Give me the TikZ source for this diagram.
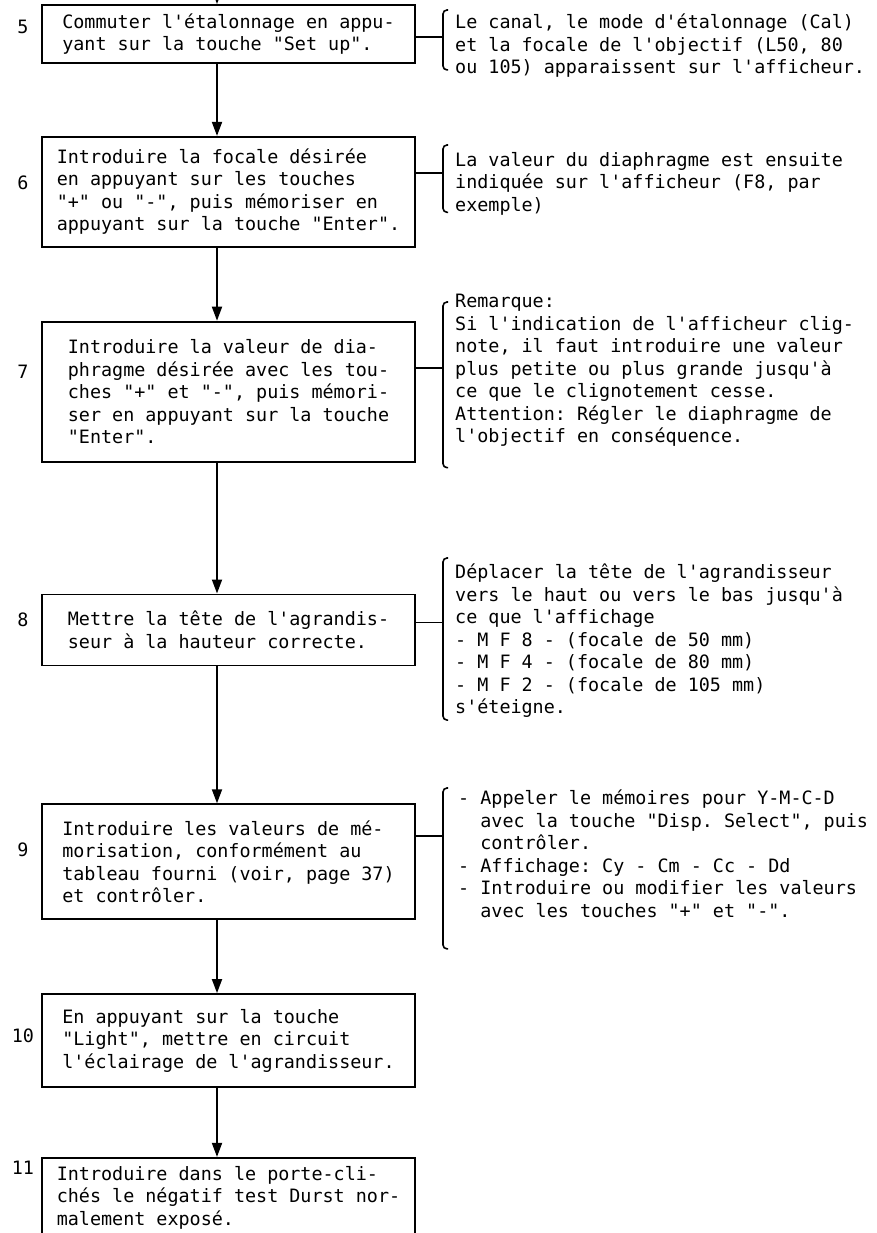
\documentclass[tikz,border=0pt]{standalone}
\usepackage{fontspec}
\setmonofont{DejaVu Sans Mono}
\usetikzlibrary{positioning, arrows.meta}

\begin{document}
\begin{tikzpicture}[
        x=1pt, y=-1pt,
        stepbox/.style={rectangle, draw, line width=1.8pt, minimum width=373pt, align=left, inner sep=4pt, font={\ttfamily\fontsize{18.4pt}{22.5pt}\selectfont}},
        note/.style={anchor=north west, align=left, inner sep=0pt, font={\ttfamily\fontsize{18.4pt}{22.5pt}\selectfont}},
        steplabel/.style={inner sep=0pt, font={\ttfamily\fontsize{18.4pt}{22.5pt}\selectfont}},
        arrow/.style={line width=1.8pt, -{Triangle[length=14pt, width=10pt]}},
        link/.style={line width=1.8pt},
        brace/.style={line width=1.6pt, rounded corners=4pt}
    ]
    \useasboundingbox (0,0) rectangle (876,1233);
    \clip (0,0) rectangle (876,1233);

    % steps
    \node [stepbox, minimum height=58pt] (b5) at (228.5,34) {Commuter l'étalonnage en appu-\\yant sur la touche "Set up".};
    \node [stepbox, minimum height=110pt, below=72pt of b5] (b6) {Introduire la focale désirée\\en appuyant sur les touches\\"+" ou "-", puis mémoriser en\\appuyant sur la touche "Enter".};
    \node [stepbox, minimum height=140pt, below=73pt of b6] (b7) {Introduire la valeur de dia-\\phragme désirée avec les tou-\\ches "+" et "-", puis mémori-\\ser en appuyant sur la touche\\"Enter".};
    \node [stepbox, minimum height=71pt, below=131pt of b7] (b8) {Mettre la tête de l'agrandis-\\seur à la hauteur correcte.};
    \node [stepbox, minimum height=115pt, below=137pt of b8] (b9) {Introduire les valeurs de mé-\\morisation, conformément au\\tableau fourni (voir, page 37)\\et contrôler.};
    \node [stepbox, minimum height=93pt, below=73pt of b9] (b10) {En appuyant sur la touche\\"Light", mettre en circuit\\l'éclairage de l'agrandisseur.};
    \node [stepbox, minimum height=98pt, below=69pt of b10] (b11) {Introduire dans le porte-cli-\\chés le négatif test Durst nor-\\malement exposé.\\\mbox{}};

    % step numbers
    \node [steplabel] (l5) at (23,27) {5};
    \node [steplabel] (l6) at (23,183) {6};
    \node [steplabel] (l7) at (23,372) {7};
    \node [steplabel] (l8) at (23,620) {8};
    \node [steplabel] (l9) at (23,850) {9};
    \node [steplabel] (l10) at (23,1036) {10};
    \node [steplabel] (l11) at (23,1168) {11};

    % notes
    \node [note] (n5) at (455,14) {Le canal, le mode d'étalonnage (Cal)\\et la focale de l'objectif (L50, 80\\ou 105) apparaissent sur l'afficheur.};
    \node [note] (n6) at (455,152) {La valeur du diaphragme est ensuite\\indiquée sur l'afficheur (F8, par\\exemple)};
    \node [note] (n7) at (455,294) {Remarque:\\Si l'indication de l'afficheur clig-\\note, il faut introduire une valeur\\plus petite ou plus grande jusqu'à\\ce que le clignotement cesse.\\Attention: Régler le diaphragme de\\l'objectif en conséquence.};
    \node [note] (n8) at (455,564) {Déplacer la tête de l'agrandisseur\\vers le haut ou vers le bas jusqu'à\\ce que l'affichage\\- M F 8 - (focale de 50 mm)\\- M F 4 - (focale de 80 mm)\\- M F 2 - (focale de 105 mm)\\s'éteigne.};
    \node [note] (n9) at (458,790) {- Appeler le mémoires pour Y-M-C-D\\\phantom{- }avec la touche "Disp. Select", puis\\\phantom{- }contrôler.\\- Affichage: Cy - Cm - Cc - Dd\\- Introduire ou modifier les valeurs\\\phantom{- }avec les touches "+" et "-".};

    % flow
    \coordinate (entry) at (217,-12);
    \draw [arrow] (entry) -- ([xshift=-11.5pt]b5.north);
    \draw [arrow] ([xshift=-11.5pt]b5.south) -- ([xshift=-11.5pt]b6.north);
    \draw [arrow] ([xshift=-11.5pt]b6.south) -- ([xshift=-11.5pt]b7.north);
    \draw [arrow] ([xshift=-11.5pt]b7.south) -- ([xshift=-11.5pt]b8.north);
    \draw [arrow] ([xshift=-11.5pt]b8.south) -- ([xshift=-11.5pt]b9.north);
    \draw [arrow] ([xshift=-11.5pt]b9.south) -- ([xshift=-11.5pt]b10.north);
    \draw [arrow] ([xshift=-11.5pt]b10.south) -- ([xshift=-11.5pt]b11.north);

    % links to the notes
    \draw [link] ([yshift=-33pt]b5.north east) -- ++(28,0);
    \draw [link] ([yshift=-37pt]b6.north east) -- ++(28,0);
    \draw [link] ([yshift=-47pt]b7.north east) -- ++(28,0);
    \draw [link] ([yshift=-29pt]b8.north east) -- ++(28,0);
    \draw [link] ([yshift=-33pt]b9.north east) -- ++(28,0);

    \draw [brace] ([xshift=-7pt,yshift=4pt]n5.north west) -| ([xshift=-12pt,yshift=8pt]n5.south west) -- ([xshift=-7pt,yshift=8pt]n5.south west);
    \draw [brace] ([xshift=-7pt,yshift=7pt]n6.north west) -| ([xshift=-12pt,yshift=3pt]n6.south west) -- ([xshift=-7pt,yshift=3pt]n6.south west);
    \draw [brace] ([xshift=-7pt,yshift=-8pt]n7.north west) -| ([xshift=-12pt,yshift=-21pt]n7.south west) -- ([xshift=-7pt,yshift=-21pt]n7.south west);
    \draw [brace] ([xshift=-7pt,yshift=6pt]n8.north west) -| ([xshift=-12pt,yshift=-2pt]n8.south west) -- ([xshift=-7pt,yshift=-2pt]n8.south west);
    \draw [brace] ([xshift=-10pt,yshift=2pt]n9.north west) -| ([xshift=-15pt,yshift=-31pt]n9.south west) -- ([xshift=-10pt,yshift=-31pt]n9.south west);

\end{tikzpicture}
\end{document}
